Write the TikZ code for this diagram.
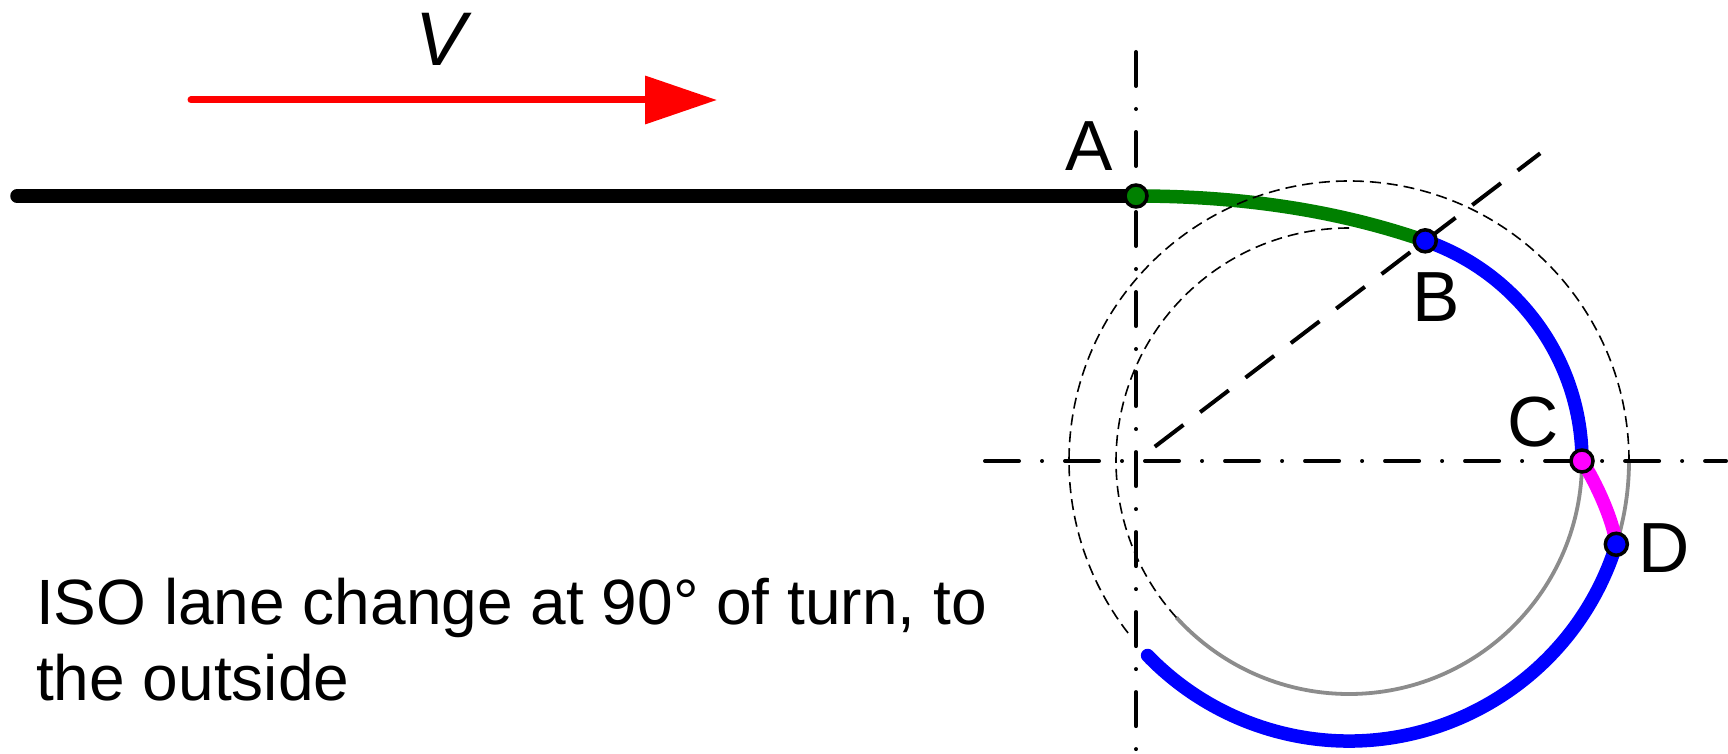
\documentclass[tikz,border=0pt]{standalone}
\usepackage{fontspec}
\setmainfont{Liberation Sans}
\usetikzlibrary{calc,arrows.meta}
\definecolor{pathgreen}{RGB}{0,128,0}
\definecolor{pathblue}{RGB}{0,0,255}
\definecolor{pathmag}{RGB}{255,0,255}
\definecolor{pathred}{RGB}{255,0,0}
\definecolor{arcgray}{RGB}{140,140,140}
\begin{document}
\begin{tikzpicture}[x=1pt,y=1pt,
  thickpath/.style={line width=13.5pt, line cap=round},
  thindash/.style={line width=1.6pt, dash pattern=on 11pt off 6pt},
  grayarc/.style={arcgray, line width=3.8pt},
  axisline/.style={line width=4pt, line cap=round, dash pattern=on 34pt off 23pt on 0.01pt off 23pt},
  radline/.style={line width=4pt, dash pattern=on 36pt off 21pt, dash phase=36pt},
  dotst/.style={circle, draw=black, line width=3.5pt, minimum size=22pt, inner sep=0pt},
  lbl/.style={font=\fontsize{71}{80}\selectfont, anchor=base, inner sep=0pt},
  caption/.style={font=\fontsize{64}{76}\selectfont, anchor=base west, inner sep=0pt}]
\useasboundingbox (0,0) rectangle (1728,753);
% key points
\coordinate (O) at (1136,292);
\coordinate (M) at (1349,292);
\coordinate (pA) at (1136,557);
\coordinate (pB) at ($(M)+(70.9:233)$);
\coordinate (pC) at ($(M)+(0:233)$);
\coordinate (pD) at ($(M)+(-17.3:280)$);
\coordinate (pIn) at ($(M)+(90:233)$);
\coordinate (pOut) at ($(M)+(0:280)$);
\coordinate (L0) at (17,557);
\coordinate (R0) at (191,653);
\coordinate (R1) at (717,653);
\coordinate (vTop) at (1136,701);
\coordinate (vBot) at (1136,-5);
\coordinate (hL) at (985,292);
\coordinate (hR) at (1726,292);
\coordinate (dEnd) at ($(O)+(37.28:508)$);
% gray solid arcs
\draw[grayarc] (pC) arc[start angle=0, end angle=-137.8, radius=233];
\draw[grayarc] (pOut) arc[start angle=0, end angle=-17.3, radius=280];
% axes
\draw[axisline] (vTop) -- (vBot);
\draw[axisline] (hL) -- (hR);
\draw[radline, shorten <=2.6pt] (O) -- (dEnd);
% path
\draw[thickpath, black] (L0) -- (pA);
\draw[thickpath, pathgreen] (pA) .. controls ($(pA)+(120,0)$) and ($(pB)+(-75.6,26.2)$) .. (pB);
\draw[thickpath, pathblue] (pB) arc[start angle=70.9, end angle=0, radius=233];
\draw[thickpath, pathmag] (pC) .. controls ($(pC)+(13.7,-20.9)$) and ($(pD)+(-3.4,24.8)$) .. (pD);
\draw[thickpath, pathblue] (pD) arc[start angle=-17.3, end angle=-136, radius=280];
% thin dashed circles
\draw[thindash] (pIn) arc[start angle=90, end angle=222.2, radius=233];
\draw[thindash] (pOut) arc[start angle=0, end angle=218.7, radius=280];
% velocity arrow
\draw[pathred, line width=7pt, line cap=round, -{Triangle[length=72pt,width=47pt]}] (R0) -- (R1);
\node[font=\fontsize{76}{80}\selectfont\itshape, anchor=base, inner sep=0pt] (V) at (441,687) {V};
% dots
\node[dotst, fill=pathgreen] (A) at (pA) {};
\node[dotst, fill=pathblue] (B) at (pB) {};
\node[dotst, fill=pathmag] (C) at (pC) {};
\node[dotst, fill=pathblue] (D) at (pD) {};
% labels
\node[lbl] (lA) at (1089,582) {A};
\node[lbl] (lB) at (1436,431) {B};
\node[lbl] (lC) at (1533,307) {C};
\node[lbl] (lD) at (1664,181) {D};
% caption
\node[caption] (t1) at (36,129) {ISO lane change at 90° of turn, to};
\node[caption] (t2) at (36,53) {the outside};
\end{tikzpicture}
\end{document}
